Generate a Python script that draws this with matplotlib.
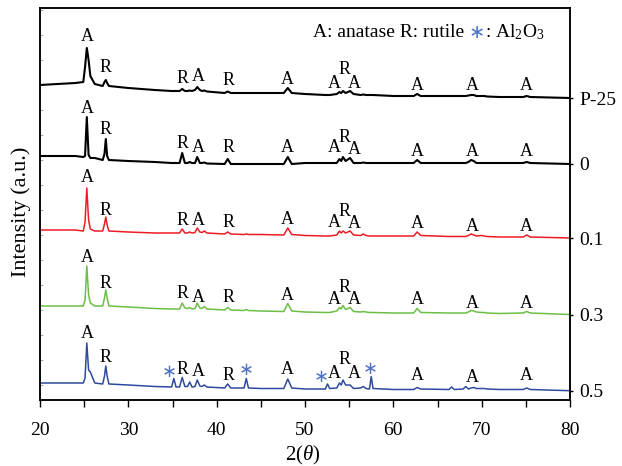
import numpy as np
import matplotlib
matplotlib.use("Agg")
import matplotlib.pyplot as plt
from matplotlib.ticker import MultipleLocator

plt.rcParams['font.family'] = 'Liberation Serif'
plt.rcParams['mathtext.fontset'] = 'custom'
plt.rcParams['mathtext.rm'] = 'Liberation Serif'
plt.rcParams['mathtext.it'] = 'Liberation Serif:italic'

# 2theta grid shared by all patterns (deg)
two_theta = [20, 22, 24, 24.9, 25.1, 25.3, 25.5, 25.7, 26.2, 27.1,
             27.3, 27.45, 27.6, 27.8, 30, 33, 34.9, 35.15, 35.4, 35.8,
             36.1, 36.4, 36.7, 36.95, 37.2, 37.55, 37.8, 38.1, 38.35, 38.6,
             38.9, 40.9, 41.25, 41.6, 43.1, 43.35, 43.6, 45, 47.6, 48.05,
             48.5, 50, 52.3, 52.55, 52.8, 53.6, 53.9, 54.1, 54.3, 54.6,
             55.1, 55.5, 56.3, 56.6, 56.9, 57.3, 57.5, 57.7, 60, 62.3,
             62.7, 63.1, 66.3, 66.6, 66.9, 67.9, 68.2, 68.5, 68.8, 69.1,
             69.4, 70.0, 70.3, 70.6, 72, 74.7, 75.1, 75.5, 80]

# intensities (a.u.)
i_p25 = [15, 16, 17, 18, 33, 52, 40, 24, 16, 14,
         18, 20, 17, 14, 12, 10, 9, 9, 9, 9,
         11, 9, 9, 9.5, 9, 10, 13, 10, 9, 9.5,
         8.5, 7, 8.5, 7, 7, 7, 7, 7, 7, 12,
         7, 6, 5, 5, 5, 6, 8, 7, 9, 7,
         9, 6, 5, 5.5, 5, 5, 5, 5, 4, 4,
         6, 4, 4, 4, 4, 4, 4, 4.5, 5, 5,
         4, 4, 4, 3.5, 3, 3, 4, 3, 2]
i_0 = [12, 12, 12, 11, 12, 51, 13, 10, 10, 8,
       14, 29, 12, 8, 7, 6, 5, 5, 5, 5,
       15, 5, 5, 6, 5, 5, 11, 5, 5, 5.5,
       4.5, 4, 9, 4, 4, 4, 4, 4, 4, 11,
       4, 5, 5, 5, 5, 5, 9, 7, 11, 7,
       10, 5, 5, 5.5, 5, 5, 5, 5, 5, 5,
       8, 5, 5, 5, 5, 5, 5, 6, 8, 7,
       5, 5, 5, 5, 5, 5, 6, 5, 4]
i_01 = [10, 10, 10, 9, 18, 52, 20, 11, 9, 9,
        16, 23, 15, 9, 8, 7, 7, 7, 7, 7,
        11, 7, 7, 8, 7, 7.5, 12, 8, 7.5, 9,
        7, 6, 8, 6, 5.5, 6, 5.5, 5.5, 5, 12,
        5.5, 4.5, 4, 4, 4, 5, 9, 7, 9, 7,
        9, 5, 4.5, 6, 4.5, 4, 4, 4, 4, 4,
        8, 4.5, 3.5, 3.5, 3.5, 3.5, 3.5, 4.5, 6, 5,
        4, 4.5, 4, 3.5, 3, 3, 5, 3, 2]
i_03 = [10, 10, 10, 10, 16, 50, 21, 13, 10, 10,
        18, 26, 18, 10, 9, 7.5, 7, 7, 7, 7,
        13, 8, 7.5, 8.5, 7, 7.5, 13, 8, 7.5, 9.5,
        7, 6, 8.5, 6, 5.5, 6.5, 5.5, 5, 4.5, 12.5,
        5, 4, 3.5, 3.5, 3.5, 5, 8.5, 7, 10.5, 6.5,
        8.5, 4.5, 4, 4.5, 4, 3.5, 3.5, 3.5, 3, 3,
        7.5, 3.5, 3, 3, 3, 3, 3, 4, 5.5, 5,
        4, 3.5, 3.5, 3, 2.5, 3, 4.5, 3, 1.5]
i_05 = [10, 10, 10, 10, 15, 50, 23, 21, 10, 9,
        17, 27, 17, 9, 8, 6.5, 6, 14.5, 6, 6,
        15.5, 6.5, 6.5, 11, 6, 6.5, 13, 7, 6.5, 8,
        6, 5, 9, 5, 5, 14.5, 5, 4.5, 4.5, 14,
        5, 4, 4, 9, 4.5, 5, 10, 8, 13, 8,
        8, 4.5, 5, 6.5, 4.5, 4, 16.5, 4.5, 3.5, 3.5,
        5.5, 4, 3.5, 6, 3.5, 4, 6.5, 4, 5, 5.5,
        4.5, 4.5, 4.5, 4, 3.5, 3.5, 5, 3.5, 2.3]

samples = ['P-25', '0', '0.1', '0.3', '0.5']
patterns = [i_p25, i_0, i_01, i_03, i_05]

# indexed peaks
peak_pos = [25.4, 27.45, 36.1, 37.9, 41.3, 48.0, 53.3, 54.5, 55.6, 62.7, 68.9, 75.1]
peak_phase = ['A', 'R', 'R', 'A', 'R', 'A', 'A', 'R', 'A', 'A', 'A', 'A']
al2o3_pos = [34.6, 43.3, 51.85, 57.4]

# layout
offsets = [300, 232, 160, 84, 7]
colors = ['black', 'black', '#ed1c24', '#6cbe45', '#2e4a9e']
widths = [1.5, 1.5, 1.1, 1.1, 1.1]
label_y = [[364, 333, 322, 324, 320, 321, 317, 331, 317, 315, 315, 315],
           [292, 271, 257, 253, 252, 253, 252, 263, 251, 248, 248, 248],
           [222, 190, 180, 180, 178, 181, 178, 189, 177, 177, 174, 174],
           [142, 117, 106, 103, 102, 105, 101, 112, 101, 101, 96, 96],
           [66, 42, 31, 29, 24, 31, 27, 41, 27, 24, 22, 25]]
star_y = [28, 30, 23, 31]
star_color = '#4f72c8'

fig = plt.figure(figsize=(6.22, 4.66), dpi=100)
ax = fig.add_axes([40/622, 66/466, 530/622, 392/466])

ends = []
for inten, off, c, lw in zip(patterns, offsets, colors, widths):
    y = np.array(inten) + off
    ax.plot(two_theta, y, color=c, lw=lw)
    ends.append(y[-1])

for ys in label_y:
    for x, ph, yy in zip(peak_pos, peak_phase, ys):
        ax.text(x, yy, ph, ha='center', va='center', fontsize=13)
for x, yy in zip(al2o3_pos, star_y):
    ax.text(x, yy, '\u2217', ha='center', va='center', fontsize=13,
            color=star_color, family='DejaVu Sans')

# key
t1 = ax.text(50.9, 368, 'A: anatase R: rutile', ha='left', va='center', fontsize=14)
t2 = ax.annotate('\u2217', xy=(1, 0.5), xycoords=t1, xytext=(3, 0),
                 textcoords='offset points', ha='left', va='center',
                 fontsize=14, color=star_color, family='DejaVu Sans')
ax.annotate(': Al$_2$O$_3$', xy=(1, 0.5), xycoords=t2, ha='left', va='center',
            fontsize=14)

ax.set_xlim(20, 80)
ax.set_ylim(0, 392)
ax.xaxis.set_major_locator(MultipleLocator(10))
ax.xaxis.set_minor_locator(MultipleLocator(5))
ax.tick_params(axis='x', which='both', direction='out', length=5, width=1,
               labelsize=14, pad=11)
ax.set_yticks(np.arange(15, 392, 25))
ax.tick_params(axis='y', direction='in', length=2.5, width=0.6, color='0.6',
               labelleft=False)

ax2 = ax.twinx()
ax2.set_ylim(0, 392)
ax2.set_yticks(ends)
ax2.set_yticklabels(samples)
ax2.tick_params(axis='y', direction='out', length=2.5, width=1, labelsize=14, pad=4)

for a in (ax, ax2):
    for s in a.spines.values():
        s.set_linewidth(1.1)

fig.text(21/622, 1 - 212/466, 'Intensity (a.u.)', rotation=90, ha='center',
         va='center', fontsize=16)
fig.text(303/622, 1 - 455/466, '2($\\theta$)', ha='center', va='center', fontsize=15)

fig.savefig('out.png', dpi=100)
plt.close(fig)
